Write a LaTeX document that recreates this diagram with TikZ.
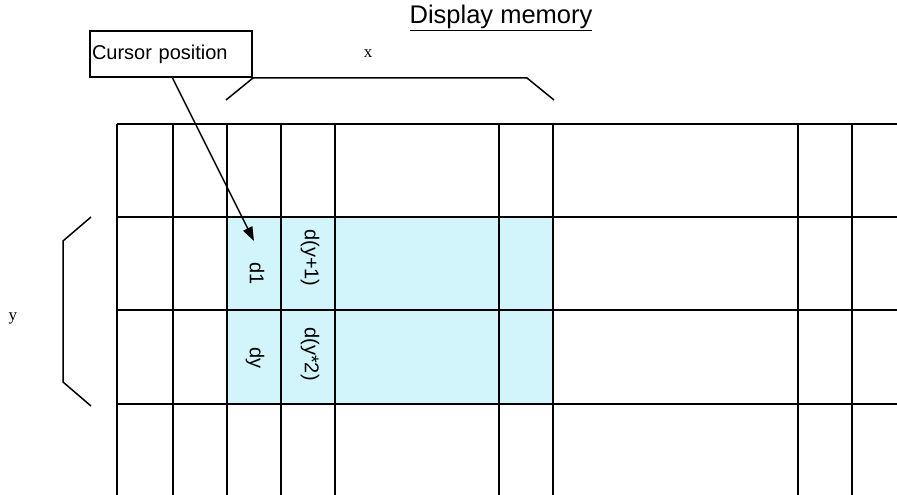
\documentclass[tikz,border=0pt]{standalone}
\usepackage{fontspec}
\setmainfont{Liberation Sans}
\newfontfamily\serifx{Liberation Serif}
\usetikzlibrary{arrows.meta}
\definecolor{cellblue}{RGB}{210,245,252}
\begin{document}
\begin{tikzpicture}[x=1pt,y=-1pt,
  gridline/.style={line width=1.7pt,black},
  bracket/.style={line width=1.5pt,black},
  celltext/.style={font=\fontsize{20}{22}\selectfont,rotate=-90,inner sep=0pt},
  axislabel/.style={font=\serifx\fontsize{17}{19}\selectfont,inner sep=0pt}]
\useasboundingbox (0,0) rectangle (897,495);
\fill[white] (0,0) rectangle (897,495);
% highlighted cells
\fill[cellblue] (227,217) rectangle (553,404);
% grid
\foreach \xx in {117,173,227,281,335,499,553,798,852}
  \draw[gridline] (\xx,124) -- (\xx,495);
\foreach \yy in {124,217,310,404}
  \draw[gridline] (117,\yy) -- (897,\yy);
% title
\node[font=\fontsize{25.5}{27}\selectfont,inner sep=0pt] (title) at (501,18) {\underline{Display memory}};
% x bracket
\draw[bracket] (226,100) -- (253,78) -- (527,78) -- (554,100);
\node[axislabel] (xlab) at (368,54) {x};
% y bracket
\draw[bracket] (91,217) -- (63,241) -- (63,382) -- (91,406);
\node[axislabel] (ylab) at (13,318) {y};
% cursor box
\node[draw,line width=1.5pt,minimum width=162pt,minimum height=46pt,inner sep=2pt,
  font=\fontsize{20}{22}\selectfont,text width=158pt,align=left] (cursor) at (171,54) {Cursor position};
\coordinate (tip) at (254,241);
\draw[line width=1.5pt,-{Triangle[length=14pt,width=10pt]}] (172,77) -- (tip);
% cell labels
\node[celltext] (d1) at (257,274) {d1};
\node[celltext] (dy) at (255,358) {dy};
\node[celltext] (dy1) at (310,258) {d(y+1)};
\node[celltext] (dy2) at (310,354) {d(y*2)};
\end{tikzpicture}
\end{document}
